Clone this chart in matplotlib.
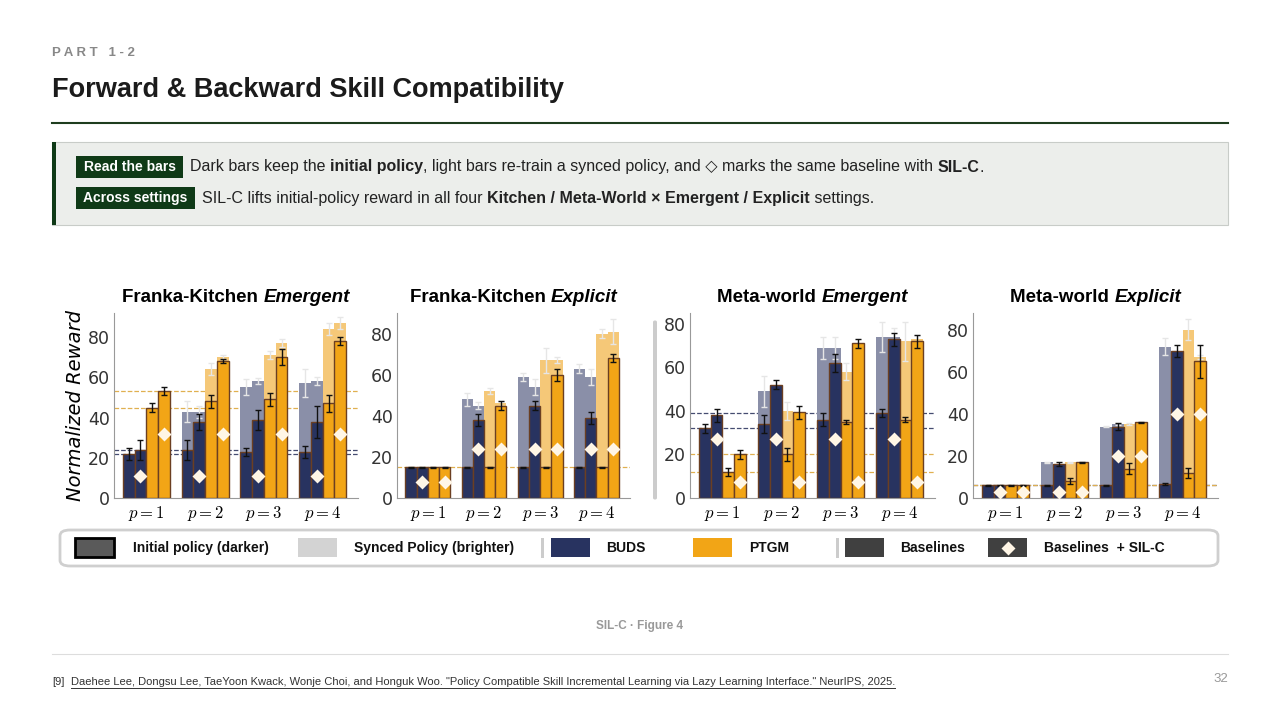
import numpy as np
import matplotlib.pyplot as plt
from matplotlib.patches import Rectangle, FancyBboxPatch
from matplotlib.lines import Line2D

plt.rcParams['font.family'] = ['Liberation Sans', 'DejaVu Sans']
plt.rcParams['mathtext.fontset'] = 'cm'

NAVY = '#283360'
ORANGE = '#f2a516'
NAVY_L = '#8a8fa8'
ORANGE_L = '#f5c878'
EDGE = '#6b3f22'
GREEN = '#0f3a17'

groups = ['$p = 1$', '$p = 2$', '$p = 3$', '$p = 4$']
titles = [('Franka-Kitchen ', 'Emergent'), ('Franka-Kitchen ', 'Explicit'),
          ('Meta-world ', 'Emergent'), ('Meta-world ', 'Explicit')]

# per panel: [group][bar] with bars = BUDS, BUDS+SIL-C, PTGM, PTGM+SIL-C
init_fk_em = [[22, 24, 45, 53], [24, 38, 48, 68], [23, 39, 49, 70], [23, 38, 47, 78]]
sync_fk_em = [[22, 24, 45, 53], [43, 43, 64, 70], [55, 58, 71, 77], [57, 58, 84, 87]]
init_fk_ex = [[15, 15, 15, 15], [15, 38, 15, 45], [15, 45, 15, 60], [15, 39, 15, 68]]
sync_fk_ex = [[15, 15, 15, 15], [48, 45, 52, 46], [59, 54, 67, 67], [63, 59, 80, 81]]
init_mw_em = [[32, 38, 12, 20], [34, 52, 20, 39.5], [36, 62, 35, 71], [39, 73, 36, 72]]
sync_mw_em = [[32, 38, 12, 20], [49, 52, 40, 39.5], [69, 69, 58, 71], [74, 74, 72, 73]]
init_mw_ex = [[6, 6, 6, 6], [6, 16, 8, 17], [6, 34, 14, 36], [6.5, 70, 12, 65]]
sync_mw_ex = [[6, 6, 6, 6], [17, 16, 17, 17], [34, 35, 35, 36], [72, 70, 80, 67]]

init_err = [[[3, 5, 2, 2], [5, 4, 3, 1], [2, 5, 3, 4], [3, 8, 4, 2]],
            [[0.2, 0.2, 0.2, 0.2], [0.2, 3, 0.3, 2], [0.2, 2, 0.3, 3], [0.2, 3, 0.3, 2]],
            [[2, 3, 2, 2], [4, 2, 3, 3], [3, 4, 1, 2], [2, 3, 1, 3]],
            [[0.3, 0.3, 0.3, 0.3], [0.3, 1, 1.5, 0.3], [0.3, 1.5, 2.5, 0.3], [0.5, 3, 2.5, 8]]]
sync_err = [[[0, 0, 0, 0], [5, 3, 3, 1], [4, 1.5, 2, 2], [7, 2, 3, 3]],
            [[0, 0, 0, 0], [3, 1.5, 1.5, 1], [2, 4, 6, 1.5], [2, 4, 2, 6]],
            [[0, 0, 0, 0], [7, 2, 4, 3], [5, 5, 4, 2], [7, 4, 9, 2]],
            [[0, 0, 0, 0], [0.3, 0.3, 0.3, 0.3], [0.3, 0.5, 0.5, 0.3], [4, 4, 5, 1]]]
diamond_y = [[[11, 32]] * 4,
             [[8, 8], [24, 24], [24, 24], [24, 24]],
             [[27, 7.5]] * 4,
             [[3, 3], [3, 3], [20, 20], [40, 40]]]
navy_lines = [[22, 24], [], [32, 39], [6]]
orange_lines = [[45, 53], [15], [12, 20], [6]]
ylims = [92, 90, 85, 88]
inits = [init_fk_em, init_fk_ex, init_mw_em, init_mw_ex]
syncs = [sync_fk_em, sync_fk_ex, sync_mw_em, sync_mw_ex]

W, H = 1280, 720
fig = plt.figure(figsize=(12.8, 7.2), dpi=100)


def fx(x):
    return x / W


def fy(y):
    return 1 - y / H


def put(x, y, s, **kw):
    return fig.text(fx(x), fy(y), s, **kw)


renderer = fig.canvas.get_renderer()


def runs(x, y, parts, size=11.5, color='#222222'):
    for s, w in parts:
        t = put(x, y, s, fontsize=size, fontweight=w, color=color, va='center')
        x += t.get_window_extent(renderer).width
    return x


# header
put(52, 53, 'P A R T   1 - 2', fontsize=9.5, fontweight='bold', color='#888888', va='center')
put(52, 90, 'Forward & Backward Skill Compatibility', fontsize=19.5, fontweight='bold',
    color='#1b1b1b', va='center')
fig.add_artist(Line2D([fx(52), fx(1228)], [fy(123), fy(123)], color='#1e3d1e', lw=1.5))

# info box
fig.add_artist(Rectangle((fx(52), fy(225)), fx(1176), 83 / H, facecolor='#eceeeb',
                         edgecolor='#c8ccc8', lw=0.8))
fig.add_artist(Rectangle((fx(52), fy(225)), fx(4), 83 / H, facecolor=GREEN, edgecolor='none'))
for y, tag, w, parts in [
        (167, 'Read the bars', 107, [('Dark bars keep the ', 'normal'), ('initial policy', 'bold'),
                                     (', light bars re-train a synced policy, and \u25c7 marks the same baseline with ', 'normal'),
                                     ('SIL-C', 'bold'), ('.', 'normal')]),
        (198, 'Across settings', 119, [('SIL-C lifts initial-policy reward in all four ', 'normal'),
                                       ('Kitchen / Meta-World \u00d7 Emergent / Explicit', 'bold'),
                                       (' settings.', 'normal')])]:
    fig.add_artist(Rectangle((fx(76), fy(y + 11)), w / W, 22 / H, facecolor=GREEN, edgecolor='none'))
    put(76 + w / 2, y, tag, fontsize=10, fontweight='bold', color='white', ha='center', va='center')
    runs(76 + w + 7, y, parts)

# panels
ax_x = [(114, 358), (397, 630), (690, 935), (973, 1218)]
bw = 0.2
offs = np.array([-1.5, -0.5, 0.5, 1.5]) * bw
for k, (x0, x1) in enumerate(ax_x):
    ax = fig.add_axes([fx(x0), fy(498), (x1 - x0) / W, (498 - 313) / H])
    ini = np.array(inits[k])
    syn = np.array(syncs[k])
    ie = np.array(init_err[k])
    se = np.array(sync_err[k])
    for g in range(4):
        for b in range(4):
            xp = g + offs[b]
            base_c = NAVY if b < 2 else ORANGE
            light_c = NAVY_L if b < 2 else ORANGE_L
            if syn[g, b] > ini[g, b]:
                ax.bar(xp, syn[g, b], bw, color=light_c, edgecolor='none', zorder=1)
                if se[g, b] > 0:
                    ax.errorbar(xp, syn[g, b], yerr=se[g, b], color='#e6e6e6', capsize=2,
                                lw=1, zorder=2)
            ax.bar(xp, ini[g, b], bw, color=base_c, edgecolor=EDGE, lw=1, zorder=3)
            ax.errorbar(xp, ini[g, b], yerr=ie[g, b], color='#111111', capsize=2, lw=1, zorder=4)
        for j, b in enumerate([1, 3]):
            ax.plot(g + offs[b], diamond_y[k][g][j], marker='D', ms=7, color='#fff6e6',
                    mec='none', zorder=5)
    for v in navy_lines[k]:
        ax.axhline(v, color='#454c70', ls='--', lw=0.9, zorder=0.5)
    for v in orange_lines[k]:
        ax.axhline(v, color='#e0b050', ls='--', lw=0.9, zorder=0.5)
    ax.set_xlim(-0.55, 3.6)
    ax.set_ylim(0, ylims[k])
    ax.set_xticks(range(4))
    ax.set_xticklabels(groups, fontsize=12)
    ax.tick_params(axis='x', length=0, pad=4)
    ax.tick_params(axis='y', length=0, labelsize=12.5, labelcolor='#333333', pad=3)
    ax.set_yticks(range(0, ylims[k], 20))
    for s in ['top', 'right']:
        ax.spines[s].set_visible(False)
    for s in ['left', 'bottom']:
        ax.spines[s].set_color('#999999')
    for lab in ax.get_yticklabels():
        lab.set_family('DejaVu Sans')
    a, b2 = titles[k]
    cx = (x0 + x1) / 2
    t1 = put(0, 0, a, fontsize=13.5, fontweight='bold')
    t2 = put(0, 0, b2, fontsize=13.5, fontweight='bold', style='italic')
    w1 = t1.get_window_extent(renderer).width
    w2 = t2.get_window_extent(renderer).width
    t1.set_position((fx(cx - (w1 + w2) / 2), fy(298)))
    t2.set_position((fx(cx - (w1 + w2) / 2 + w1), fy(298)))
    t1.set_va('center')
    t2.set_va('center')
    if k == 0:
        ax.set_ylabel('Normalized Reward', fontsize=14, style='italic', family='DejaVu Sans',
                      labelpad=2)

fig.add_artist(FancyBboxPatch((fx(653), fy(500)), 4 / W, 180 / H,
                              boxstyle='round,pad=0,rounding_size=0.003',
                              facecolor='#cccccc', edgecolor='none'))

# legend
fig.add_artist(FancyBboxPatch((fx(60), fy(566)), 1158 / W, 36 / H,
                              boxstyle='round,pad=0,rounding_size=0.008',
                              facecolor='white', edgecolor='#cfcfcf', lw=2))
leg = [(75, '#5a5a5a', 'Initial policy (darker)', 133, True),
       (298, '#d3d3d3', 'Synced Policy (brighter)', 354, False),
       (551, NAVY, 'BUDS', 606, False),
       (693, ORANGE, 'PTGM', 749, False),
       (845, '#404040', 'Baselines', 900, False),
       (988, '#404040', 'Baselines  + SIL-C', 1044, False)]
for x, c, s, tx, border in leg:
    fig.add_artist(Rectangle((fx(x), fy(557)), 39 / W, 19 / H, facecolor=c,
                             edgecolor='black' if border else 'none', lw=2))
    put(tx, 548, s, fontsize=10, fontweight='bold', color='#111111', va='center')
fig.add_artist(Line2D([fx(1007.5)], [fy(548)], marker='D', ms=7, color='#fff6e6', mec='none'))
for x in [541, 836]:
    fig.add_artist(Rectangle((fx(x), fy(558)), 3 / W, 20 / H, facecolor='#cccccc', edgecolor='none'))

# caption and footer
put(640, 626, 'SIL-C \u00b7 Figure 4', fontsize=8.5, fontweight='bold', color='#999999',
    ha='center', va='center')
fig.add_artist(Line2D([fx(52), fx(1228)], [fy(654), fy(654)], color='#dddddd', lw=0.8))
put(52, 682, '[9]', fontsize=8, color='#333333', va='center')
ft = put(71, 682, 'Daehee Lee, Dongsu Lee, TaeYoon Kwack, Wonje Choi, and Honguk Woo. '
         '"Policy Compatible Skill Incremental Learning via Lazy Learning Interface." NeurIPS, 2025.',
         fontsize=8, color='#333333', va='center')
fw = ft.get_window_extent(renderer).width
fig.add_artist(Line2D([fx(71), fx(71 + fw)], [fy(688), fy(688)], color='#333333', lw=0.7))
put(1228, 679, '32', fontsize=9.5, color='#999999', ha='right', va='center')

fig.savefig('out.png', dpi=100)
